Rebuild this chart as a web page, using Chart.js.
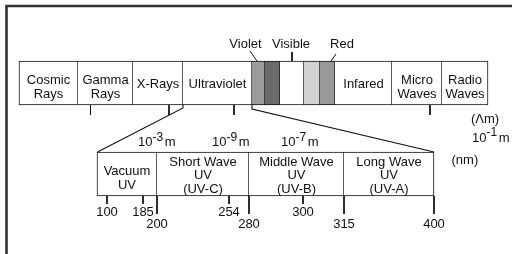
<!DOCTYPE html>
<html><head><meta charset="utf-8">
<style>html,body{margin:0;padding:0;background:#fff;}#wrap{width:512px;height:254px;}</style>
<script src="https://cdn.jsdelivr.net/npm/chart.js@4.4.1/dist/chart.umd.min.js"></script>
</head><body><div id="wrap"><canvas id="c" width="512" height="254"></canvas></div>
<script>
// ---- data (diagram units along the spectrum strip) ----
const spectrumBands = ['Cosmic\nRays','Gamma\nRays','X-Rays','Ultraviolet','','','','','','Infared','Micro\nWaves','Radio\nWaves'];
const spectrumEdges = [19,78,133,183,252,265,280,304,320,335,392,442,488];
const spectrumTicks = [90.5,169,234,430];
const visibleLabels = ['Violet','Visible','Red'];
const uvBands = ['Vacuum\nUV','Short Wave\nUV\n(UV-C)','Middle Wave\nUV\n(UV-B)','Long Wave\nUV\n(UV-A)'];
const uvEdges = [97,157,249,344,434];
const nmTickLabels = ['100','185','200','254','280','300','315','400'];
const nmTickValues = [107,143,157,229,249,303,344,434];
const meterBase = ['10','10','10','10'];
const meterExponents = ['-3','-9','-7','-1'];
const unitLabels = ['(\u039Bm)','(nm)'];

// ---- layout / style ----
const TOP_Y = 83, TOP_H = 44, UV_Y = 174, UV_H = 44;
const shades = ['#fff','#fff','#fff','#fff','#9b9b9b','#6b6b6b','#fff','#d2d2d2','#999','#fff','#fff','#fff'];
const visibleLabelPos = [[245.5,47.5],[291,47.5],[342,47.5]];
const leaderLines = [[[250,51],[257,61]],[[292,52],[292,61]],[[336,54],[331,61]]];
const meterPos = [[138,146],[212,146],[281,146],[472,141.5]];
const unitPos = [[471,123],[451.5,163.5]];
const INK = '#111';
const FONT = s => s + 'px "Liberation Sans", Arial, Helvetica, sans-serif';

const segs = (edges, y) => edges.slice(0,-1).map((e,i)=>({x:[e, edges[i+1]], y}));
const line = (pts, w, col) => ({type:'scatter', data: pts.map(p=>({x:p[0], y:p[1]})), showLine:true,
  pointRadius:0, borderColor: col || INK, borderWidth: w || 1, fill:false, tension:0});
const bw = ctx => ({top:1, bottom:1, right:1, left: ctx.dataIndex === 0 ? 1 : 0});

const datasets = [
  {type:'bar', indexAxis:'y', data: segs(spectrumEdges, TOP_Y), backgroundColor: shades,
   borderColor: INK, borderWidth: bw, borderSkipped:false, barThickness: TOP_H, skipNull:true},
  {type:'bar', indexAxis:'y', data: segs(uvEdges, UV_Y), backgroundColor:'#fff',
   borderColor: INK, borderWidth: bw, borderSkipped:false, barThickness: UV_H, skipNull:true},
  // frame
  line([[6.5,254],[6.5,6],[512,6]], 2.6, '#333'),
  // zoom lines
  line([[183,105],[183,108],[97.5,152]], 1.1),
  line([[252,105],[252,109],[434,152]], 1.1),
];
spectrumTicks.forEach(t => datasets.push(line([[t,105],[t,115]], 1)));
leaderLines.forEach(l => datasets.push(line(l, 1)));
nmTickValues.forEach(v => {
  const long = uvEdges.includes(v);
  datasets.push(line([[v,196],[v, long ? 214 : 204]], 1));
});

const textPlugin = {
  id:'diagramText',
  afterDatasetsDraw(chart){
    const {ctx, scales:{x, y}} = chart;
    const px = v => x.getPixelForValue(v), py = v => y.getPixelForValue(v);
    ctx.save();
    ctx.fillStyle = INK; ctx.textBaseline = 'alphabetic';
    ctx.font = FONT(13);
    const block = (label, cx, cy) => {
      const lines = label.split('\n'), n = lines.length;
      const shift = n === 2 ? 3 : 0;
      ctx.textAlign = 'center';
      lines.forEach((t,i) => ctx.fillText(t, px(cx), py(cy + 5 + (i - (n-1)/2) * 13.5 + shift)));
    };
    spectrumBands.forEach((lab,i) => { if (lab) block(lab, (spectrumEdges[i]+spectrumEdges[i+1])/2, TOP_Y); });
    uvBands.forEach((lab,i) => block(lab, (uvEdges[i]+uvEdges[i+1])/2, UV_Y));
    ctx.textAlign = 'center';
    visibleLabels.forEach((t,i) => ctx.fillText(t, px(visibleLabelPos[i][0]), py(visibleLabelPos[i][1])));
    nmTickLabels.forEach((t,i) => {
      const long = uvEdges.includes(nmTickValues[i]);
      ctx.fillText(t, px(nmTickValues[i]), py(long ? 228 : 216));
    });
    ctx.textAlign = 'left';
    unitLabels.forEach((t,i) => ctx.fillText(t, px(unitPos[i][0]), py(unitPos[i][1])));
    meterBase.forEach((b,i) => {
      let cx = px(meterPos[i][0]); const by = py(meterPos[i][1]);
      ctx.font = FONT(13); ctx.fillText(b, cx, by); cx += ctx.measureText(b).width;
      ctx.font = FONT(12); ctx.fillText(meterExponents[i], cx, by - 5.5); cx += ctx.measureText(meterExponents[i]).width + 1.5;
      ctx.font = FONT(13); ctx.fillText('m', cx, by);
    });
    ctx.restore();
  }
};

new Chart(document.getElementById('c'), {
  type:'scatter',
  data:{datasets},
  options:{
    responsive:false, animation:false, devicePixelRatio:1, events:[],
    layout:{padding:0},
    plugins:{legend:{display:false}, tooltip:{enabled:false}},
    scales:{
      x:{type:'linear', min:0, max:512, display:false, offset:false, grid:{offset:false}},
      y:{type:'linear', min:0, max:254, reverse:true, display:false, offset:false, grid:{offset:false}}
    }
  },
  plugins:[textPlugin]
});
</script>
</body></html>
